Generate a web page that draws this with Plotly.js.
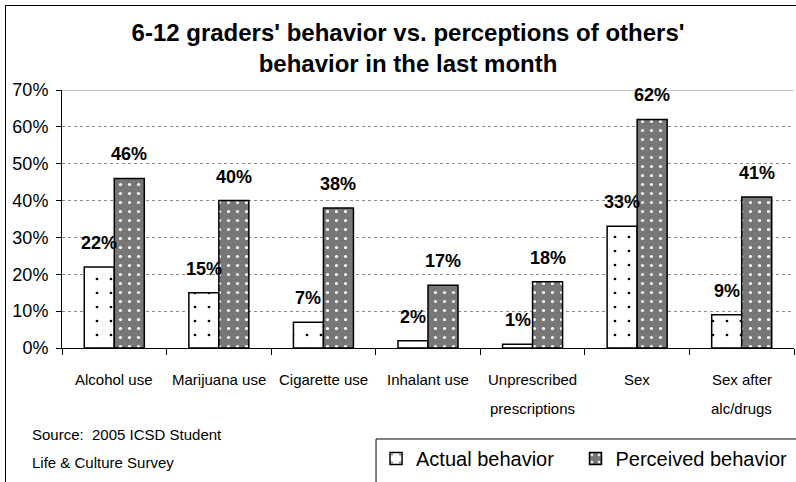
<!DOCTYPE html>
<html>
<head>
<meta charset="utf-8">
<script src="https://cdn.plot.ly/plotly-3.0.1.min.js"></script>
<style>
  html, body { margin: 0; padding: 0; background: #fff; }
  #wrap { position: relative; width: 796px; height: 482px; overflow: hidden; }
  #chart { width: 796px; height: 482px; }
  #frame {
    position: absolute; left: 5px; top: 5px; width: 900px; height: 600px;
    border-left: 1.5px solid #000; border-top: 1.5px solid #000;
    pointer-events: none;
  }
</style>
</head>
<body>
<div id="wrap">
  <div id="chart"></div>
  <div id="frame"></div>
</div>
<script>
// Survey categories and the two series (share of students, 0-1)
const categories = [
  'Alcohol use', 'Marijuana use', 'Cigarette use', 'Inhalant use',
  'Unprescribed prescriptions', 'Sex', 'Sex after alc/drugs'
];
const categoryLines = [
  ['Alcohol use'], ['Marijuana use'], ['Cigarette use'], ['Inhalant use'],
  ['Unprescribed', 'prescriptions'], ['Sex'], ['Sex after', 'alc/drugs']
];
const actual = [0.22, 0.15, 0.07, 0.02, 0.01, 0.33, 0.09];
const perceived = [0.46, 0.40, 0.38, 0.17, 0.18, 0.62, 0.41];
const seriesNames = ['Actual behavior', 'Perceived behavior'];
const yTicks = [0, 0.1, 0.2, 0.3, 0.4, 0.5, 0.6, 0.7];
const sourceLines = ['Source:  2005 ICSD Student', 'Life & Culture Survey'];

const FONT = 'Arial, "Liberation Sans", sans-serif';
const pct = v => Math.round(v * 100) + '%';

const traces = [
  {
    type: 'bar', name: seriesNames[0], x: categories, y: actual, legend: 'legend',
    marker: {
      color: '#ffffff',
      line: { color: '#000', width: 1.5 },
      pattern: { shape: '.', bgcolor: '#ffffff', fgcolor: '#000000', size: 14, solidity: 0.03 }
    },
    hoverinfo: 'skip'
  },
  {
    type: 'bar', name: seriesNames[1], x: categories, y: perceived, legend: 'legend2',
    marker: {
      color: '#808080',
      line: { color: '#000', width: 1.5 },
      pattern: { shape: '.', bgcolor: '#777777', fgcolor: '#ffffff', size: 9, solidity: 0.1 }
    },
    hoverinfo: 'skip'
  }
];

const annotations = [];
// value labels above each bar
[actual, perceived].forEach((vals, s) => {
  vals.forEach((v, i) => {
    annotations.push({
      x: categories[i], y: v, xref: 'x', yref: 'y',
      xshift: s === 0 ? -15 : 15, yshift: 24,
      text: pct(v), showarrow: false, xanchor: 'center', yanchor: 'middle',
      font: { family: FONT, size: 18, color: '#000', weight: 'bold' }
    });
  });
});
// category labels under the axis (multi-line with wide spacing)
const lineY = [-0.1202, -0.2326];
categoryLines.forEach((lines, i) => {
  lines.forEach((t, k) => {
    annotations.push({
      x: categories[i], xref: 'x', y: lineY[k], yref: 'paper',
      text: t, showarrow: false, xanchor: 'center', yanchor: 'middle',
      font: { family: FONT, size: 15, color: '#000' }
    });
  });
});
// source note
const srcY = [-0.3372, -0.4457];
sourceLines.forEach((t, k) => {
  annotations.push({
    x: -0.0437, xref: 'paper', y: srcY[k], yref: 'paper',
    text: t, showarrow: false, xanchor: 'left', yanchor: 'middle',
    font: { family: FONT, size: 15, color: '#000' }
  });
});

const legendBase = {
  orientation: 'h', y: -0.3527, yanchor: 'top', xanchor: 'left',
  bgcolor: 'rgba(0,0,0,0)', borderwidth: 0,
  font: { family: FONT, size: 20, color: '#000' }
};

const layout = {
  width: 796, height: 482,
  margin: { l: 62, r: 2, t: 90, b: 134, autoexpand: false },
  paper_bgcolor: '#fff', plot_bgcolor: '#fff',
  font: { family: FONT, color: '#000' },
  title: {
    text: "6-12 graders' behavior vs. perceptions of others'<br>behavior in the last month",
    font: { family: FONT, size: 24, color: '#000', weight: 'bold' },
    x: 0.5126, xref: 'container', xanchor: 'center',
    y: 0.915, yref: 'container', yanchor: 'middle'
  },
  barmode: 'group', bargap: 0.426, bargroupgap: 0,
  xaxis: {
    type: 'category', showgrid: false, showline: true, linecolor: '#000', linewidth: 1,
    ticks: 'outside', tickson: 'boundaries', ticklen: 6, tickcolor: '#000',
    showticklabels: false, zeroline: false, fixedrange: true
  },
  yaxis: {
    range: [0, 0.7], tickvals: yTicks, ticktext: yTicks.map(pct),
    showline: true, linecolor: '#000', linewidth: 1,
    ticks: 'outside', ticklen: 5, tickcolor: '#000', ticklabelstandoff: 4,
    tickfont: { family: FONT, size: 18, color: '#000' },
    showgrid: true, gridcolor: '#8a8a8a', gridwidth: 1, griddash: 'dot',
    zeroline: false, fixedrange: true
  },
  showlegend: true,
  legend: Object.assign({}, legendBase, { x: 0.429 }),
  legend2: Object.assign({}, legendBase, { x: 0.7015 }),
  shapes: [
    // solid top border of the plot area
    { type: 'line', xref: 'paper', yref: 'y', x0: 0, x1: 1, y0: 0.7, y1: 0.7,
      line: { color: '#8a8a8a', width: 1 } },
    // legend box, running off the right edge
    { type: 'rect', xref: 'paper', yref: 'paper', x0: 0.429, x1: 1.2, y0: -0.7, y1: -0.3527,
      line: { color: '#000', width: 1 }, fillcolor: 'rgba(0,0,0,0)' }
  ],
  annotations: annotations
};

Plotly.newPlot('chart', traces, layout, { staticPlot: true, displayModeBar: false });
</script>
</body>
</html>
